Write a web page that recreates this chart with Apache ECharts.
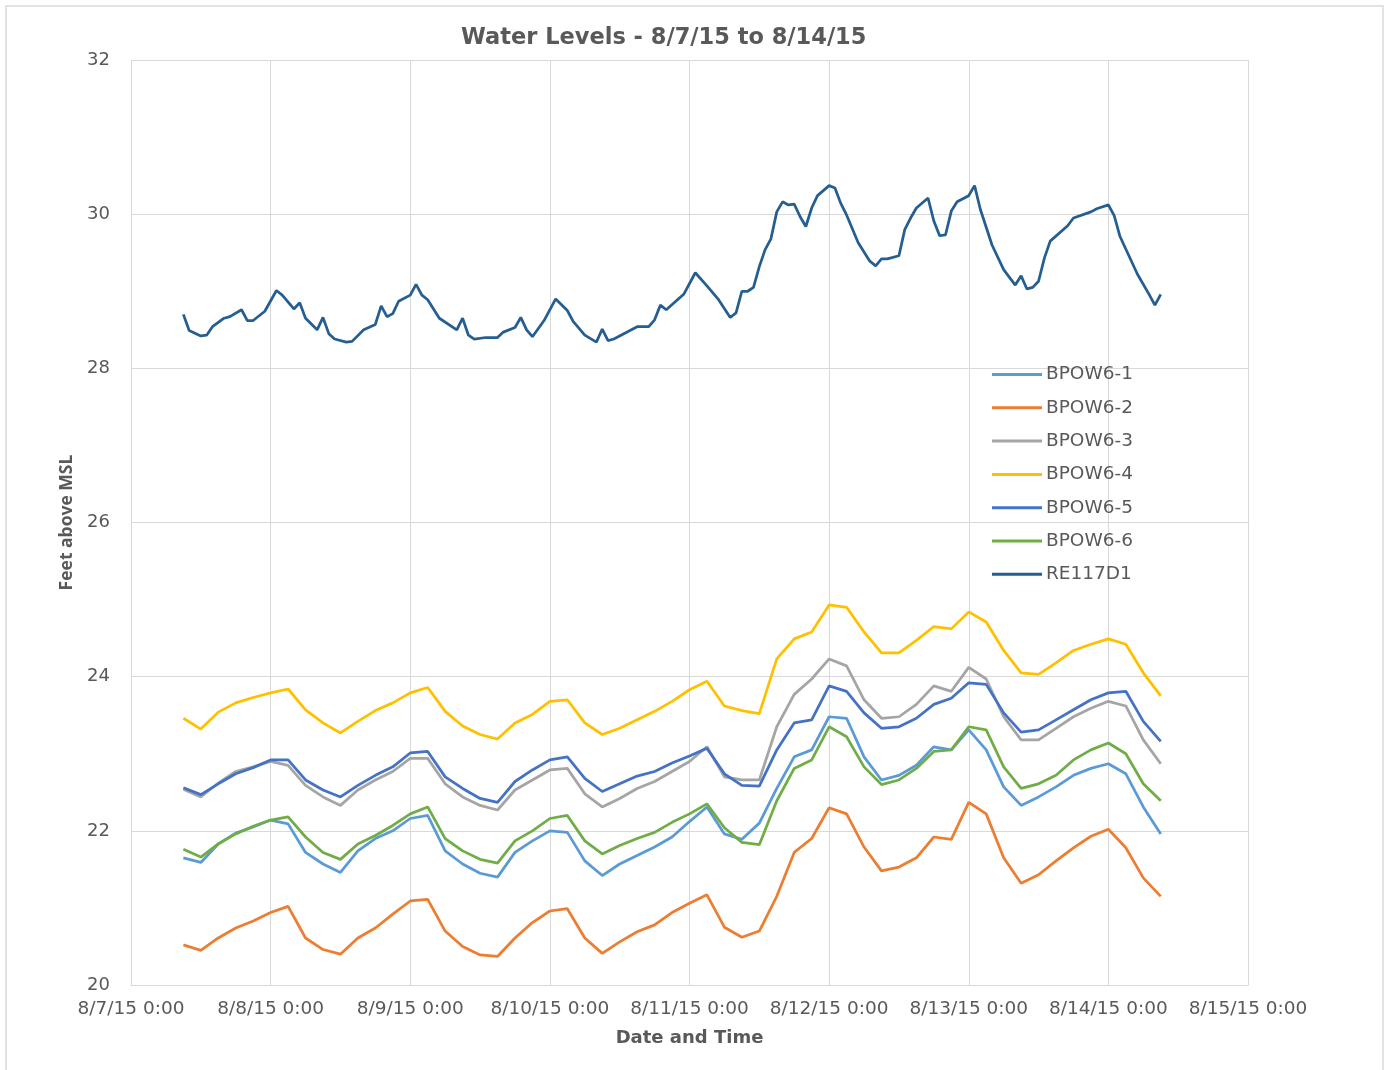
<!DOCTYPE html>
<html>
<head>
<meta charset="utf-8">
<title>Water Levels</title>
<script src="https://cdn.jsdelivr.net/npm/echarts@6.0.0/dist/echarts.min.js"></script>
<style>
  html, body { margin: 0; padding: 0; background: #fff; }
  #main { width: 1389px; height: 1070px; }
</style>
</head>
<body>
<div id="main"></div>
<script>
// hours after 8/7/15 0:00, every 3 h (BPOW6 wells)
var hours = [9, 12, 15, 18, 21, 24, 27, 30, 33, 36, 39, 42, 45, 48, 51, 54, 57, 60, 63, 66,
  69, 72, 75, 78, 81, 84, 87, 90, 93, 96, 99, 102, 105, 108, 111, 114, 117, 120, 123, 126,
  129, 132, 135, 138, 141, 144, 147, 150, 153, 156, 159, 162, 165, 168, 171, 174, 177];

var bpow1 = [21.65, 21.59, 21.83, 21.97, 22.05, 22.14, 22.09, 21.72, 21.57, 21.46, 21.74, 21.90, 22.00, 22.16, 22.20, 21.74, 21.57, 21.45, 21.40, 21.72,
  21.87, 22.00, 21.98, 21.61, 21.42, 21.57, 21.68, 21.79, 21.92, 22.12, 22.31, 21.96, 21.89, 22.10, 22.55, 22.96, 23.05, 23.48, 23.46, 22.96,
  22.66, 22.72, 22.85, 23.09, 23.05, 23.31, 23.05, 22.57, 22.33, 22.44, 22.57, 22.72, 22.81, 22.87, 22.74, 22.31, 21.96];
var bpow2 = [20.52, 20.45, 20.61, 20.74, 20.83, 20.94, 21.02, 20.61, 20.46, 20.40, 20.61, 20.74, 20.92, 21.09, 21.11, 20.70, 20.50, 20.39, 20.37, 20.61,
  20.81, 20.96, 20.99, 20.61, 20.41, 20.56, 20.69, 20.78, 20.94, 21.06, 21.17, 20.75, 20.62, 20.70, 21.15, 21.72, 21.90, 22.30, 22.22, 21.79,
  21.48, 21.53, 21.65, 21.92, 21.89, 22.37, 22.22, 21.65, 21.32, 21.43, 21.61, 21.78, 21.93, 22.02, 21.78, 21.39, 21.15];
var bpow3 = [22.54, 22.44, 22.62, 22.77, 22.83, 22.90, 22.85, 22.59, 22.44, 22.33, 22.53, 22.66, 22.77, 22.94, 22.94, 22.61, 22.44, 22.33, 22.27, 22.53,
  22.66, 22.79, 22.81, 22.48, 22.31, 22.42, 22.55, 22.64, 22.77, 22.90, 23.09, 22.70, 22.66, 22.66, 23.35, 23.77, 23.97, 24.23, 24.14, 23.70,
  23.46, 23.48, 23.64, 23.88, 23.81, 24.12, 23.97, 23.48, 23.18, 23.18, 23.33, 23.48, 23.59, 23.68, 23.62, 23.18, 22.87];
var bpow4 = [23.46, 23.32, 23.54, 23.66, 23.73, 23.79, 23.84, 23.57, 23.40, 23.27, 23.42, 23.56, 23.66, 23.79, 23.86, 23.55, 23.36, 23.25, 23.19, 23.40,
  23.51, 23.68, 23.70, 23.40, 23.25, 23.33, 23.44, 23.55, 23.68, 23.83, 23.94, 23.62, 23.56, 23.52, 24.23, 24.49, 24.58, 24.93, 24.90, 24.58,
  24.31, 24.31, 24.47, 24.65, 24.62, 24.84, 24.71, 24.34, 24.05, 24.03, 24.18, 24.34, 24.42, 24.49, 24.42, 24.05, 23.75];
var bpow5 = [22.56, 22.47, 22.61, 22.74, 22.82, 22.92, 22.92, 22.66, 22.53, 22.44, 22.59, 22.72, 22.83, 23.01, 23.03, 22.70, 22.55, 22.42, 22.37, 22.64,
  22.79, 22.92, 22.96, 22.68, 22.51, 22.61, 22.71, 22.77, 22.88, 22.97, 23.07, 22.74, 22.59, 22.58, 23.05, 23.40, 23.44, 23.88, 23.81, 23.53,
  23.33, 23.35, 23.46, 23.64, 23.72, 23.92, 23.90, 23.53, 23.28, 23.31, 23.44, 23.57, 23.70, 23.79, 23.81, 23.42, 23.16];
var bpow6 = [21.76, 21.66, 21.83, 21.96, 22.06, 22.14, 22.18, 21.92, 21.72, 21.63, 21.83, 21.94, 22.07, 22.22, 22.31, 21.90, 21.74, 21.63, 21.58, 21.87,
  22.00, 22.16, 22.20, 21.87, 21.70, 21.81, 21.90, 21.98, 22.11, 22.22, 22.35, 22.04, 21.85, 21.82, 22.39, 22.81, 22.92, 23.35, 23.22, 22.83,
  22.60, 22.66, 22.81, 23.03, 23.05, 23.35, 23.31, 22.83, 22.55, 22.61, 22.72, 22.92, 23.05, 23.14, 23.00, 22.61, 22.39];

// RE117D1 read at its own vertices (hours after 8/7/15 0:00)
var reHours = [9, 10, 12, 13, 14, 16, 17, 19, 20, 21, 23, 25, 26, 28, 29, 30, 32, 33, 34, 35,
  37, 38, 40, 42, 43, 44, 45, 46, 48, 49, 50, 51, 53, 56, 57, 58, 59, 61, 63, 64,
  66, 67, 68, 69, 71, 73, 75, 76, 78, 80, 81, 82, 83, 87, 89, 90, 91, 92, 95, 97,
  99, 101, 103, 104, 105, 106, 107, 108, 109, 110, 111, 112, 113, 114, 115, 116, 117, 118, 120, 121,
  122, 123, 125, 127, 128, 129, 130, 132, 133, 134, 135, 137, 138, 139, 140, 141, 142, 144, 145, 146,
  148, 150, 152, 153, 154, 155, 156, 157, 158, 161, 162, 165, 166, 168, 169, 170, 173, 175, 176, 177];
var re117d1 = [28.70, 28.49, 28.42, 28.43, 28.54, 28.65, 28.67, 28.76, 28.62, 28.62, 28.74, 29.01, 28.95, 28.77, 28.85, 28.65, 28.50, 28.66, 28.45, 28.38,
  28.34, 28.35, 28.50, 28.57, 28.81, 28.67, 28.71, 28.87, 28.95, 29.09, 28.95, 28.89, 28.65, 28.50, 28.65, 28.43, 28.38, 28.40, 28.40, 28.47,
  28.53, 28.66, 28.50, 28.41, 28.62, 28.90, 28.75, 28.61, 28.43, 28.34, 28.51, 28.36, 28.38, 28.54, 28.54, 28.63, 28.82, 28.76, 28.96, 29.24,
  29.07, 28.89, 28.66, 28.72, 29.00, 29.00, 29.05, 29.32, 29.54, 29.68, 30.03, 30.16, 30.12, 30.13, 29.97, 29.84, 30.08, 30.24, 30.37, 30.34,
  30.14, 29.99, 29.63, 29.39, 29.33, 29.42, 29.42, 29.46, 29.80, 29.95, 30.08, 30.21, 29.91, 29.72, 29.73, 30.04, 30.16, 30.24, 30.37, 30.06,
  29.60, 29.28, 29.08, 29.20, 29.03, 29.05, 29.13, 29.43, 29.65, 29.85, 29.95, 30.03, 30.07, 30.12, 29.98, 29.71, 29.22, 28.96, 28.82, 28.96];

var names = ['BPOW6-1', 'BPOW6-2', 'BPOW6-3', 'BPOW6-4', 'BPOW6-5', 'BPOW6-6', 'RE117D1'];
var colors = ['#5B9BD5', '#ED7D31', '#A5A5A5', '#FFC000', '#4472C4', '#70AD47', '#255E91'];

function pairs(xs, ys) {
  return xs.map(function (x, i) { return [x, ys[i]]; });
}

var seriesData = [
  pairs(hours, bpow1), pairs(hours, bpow2), pairs(hours, bpow3),
  pairs(hours, bpow4), pairs(hours, bpow5), pairs(hours, bpow6),
  pairs(reHours, re117d1)
];

var chart = echarts.init(document.getElementById('main'));
var txt = '#595959';
var wide = "'DejaVu Sans', sans-serif";
var narrow = "'Open Sans', 'Liberation Sans', sans-serif";

chart.setOption({
  animation: false,
  backgroundColor: '#fff',
  color: colors,
  textStyle: { fontFamily: wide },
  graphic: [{
    type: 'rect',
    shape: { x: 6, y: 6, width: 1377, height: 1080 },
    style: { fill: 'none', stroke: '#d9d9d9', lineWidth: 1.5 },
    silent: true
  }],
  title: {
    text: 'Water Levels - 8/7/15 to 8/14/15',
    left: 456,
    top: 22,
    textStyle: { color: txt, fontSize: 22.5, fontWeight: 'bold', fontFamily: wide }
  },
  legend: {
    orient: 'vertical',
    left: 992,
    top: 365,
    padding: 0,
    icon: 'rect',
    itemWidth: 50,
    itemHeight: 3,
    itemGap: 14.3,
    data: names,
    textStyle: { color: txt, fontSize: 18.5, fontFamily: wide, padding: [0, 0, 0, -1] }
  },
  grid: { left: 131, right: 141, top: 60, bottom: 85, containLabel: false },
  xAxis: {
    type: 'value',
    min: 0,
    max: 192,
    interval: 24,
    name: 'Date and Time',
    nameLocation: 'middle',
    nameGap: 44,
    nameTextStyle: { color: txt, fontSize: 18, fontWeight: 'bold', fontFamily: wide },
    axisLine: { show: true, lineStyle: { color: '#d9d9d9' } },
    axisTick: { show: false },
    splitLine: { show: true, lineStyle: { color: '#d9d9d9', width: 1 } },
    axisLabel: {
      color: txt,
      fontSize: 18.5,
      margin: 15,
      fontFamily: wide,
      formatter: function (v) { return '8/' + (7 + v / 24) + '/15 0:00'; }
    }
  },
  yAxis: {
    type: 'value',
    min: 20,
    max: 32,
    interval: 2,
    name: 'Feet above MSL',
    nameLocation: 'middle',
    nameRotate: 90,
    nameGap: 55,
    nameTextStyle: { color: txt, fontSize: 17.5, fontWeight: 'bold', fontFamily: narrow },
    axisLine: { show: true, lineStyle: { color: '#d9d9d9' } },
    axisTick: { show: false },
    splitLine: { show: true, lineStyle: { color: '#d9d9d9', width: 1 } },
    axisLabel: { color: txt, fontSize: 18, margin: 21, fontFamily: wide }
  },
  series: names.map(function (n, i) {
    return {
      name: n,
      type: 'line',
      data: seriesData[i],
      showSymbol: false,
      symbol: 'none',
      lineStyle: { width: 2.75, color: colors[i] },
      z: 2 + i
    };
  })
});
</script>
</body>
</html>
